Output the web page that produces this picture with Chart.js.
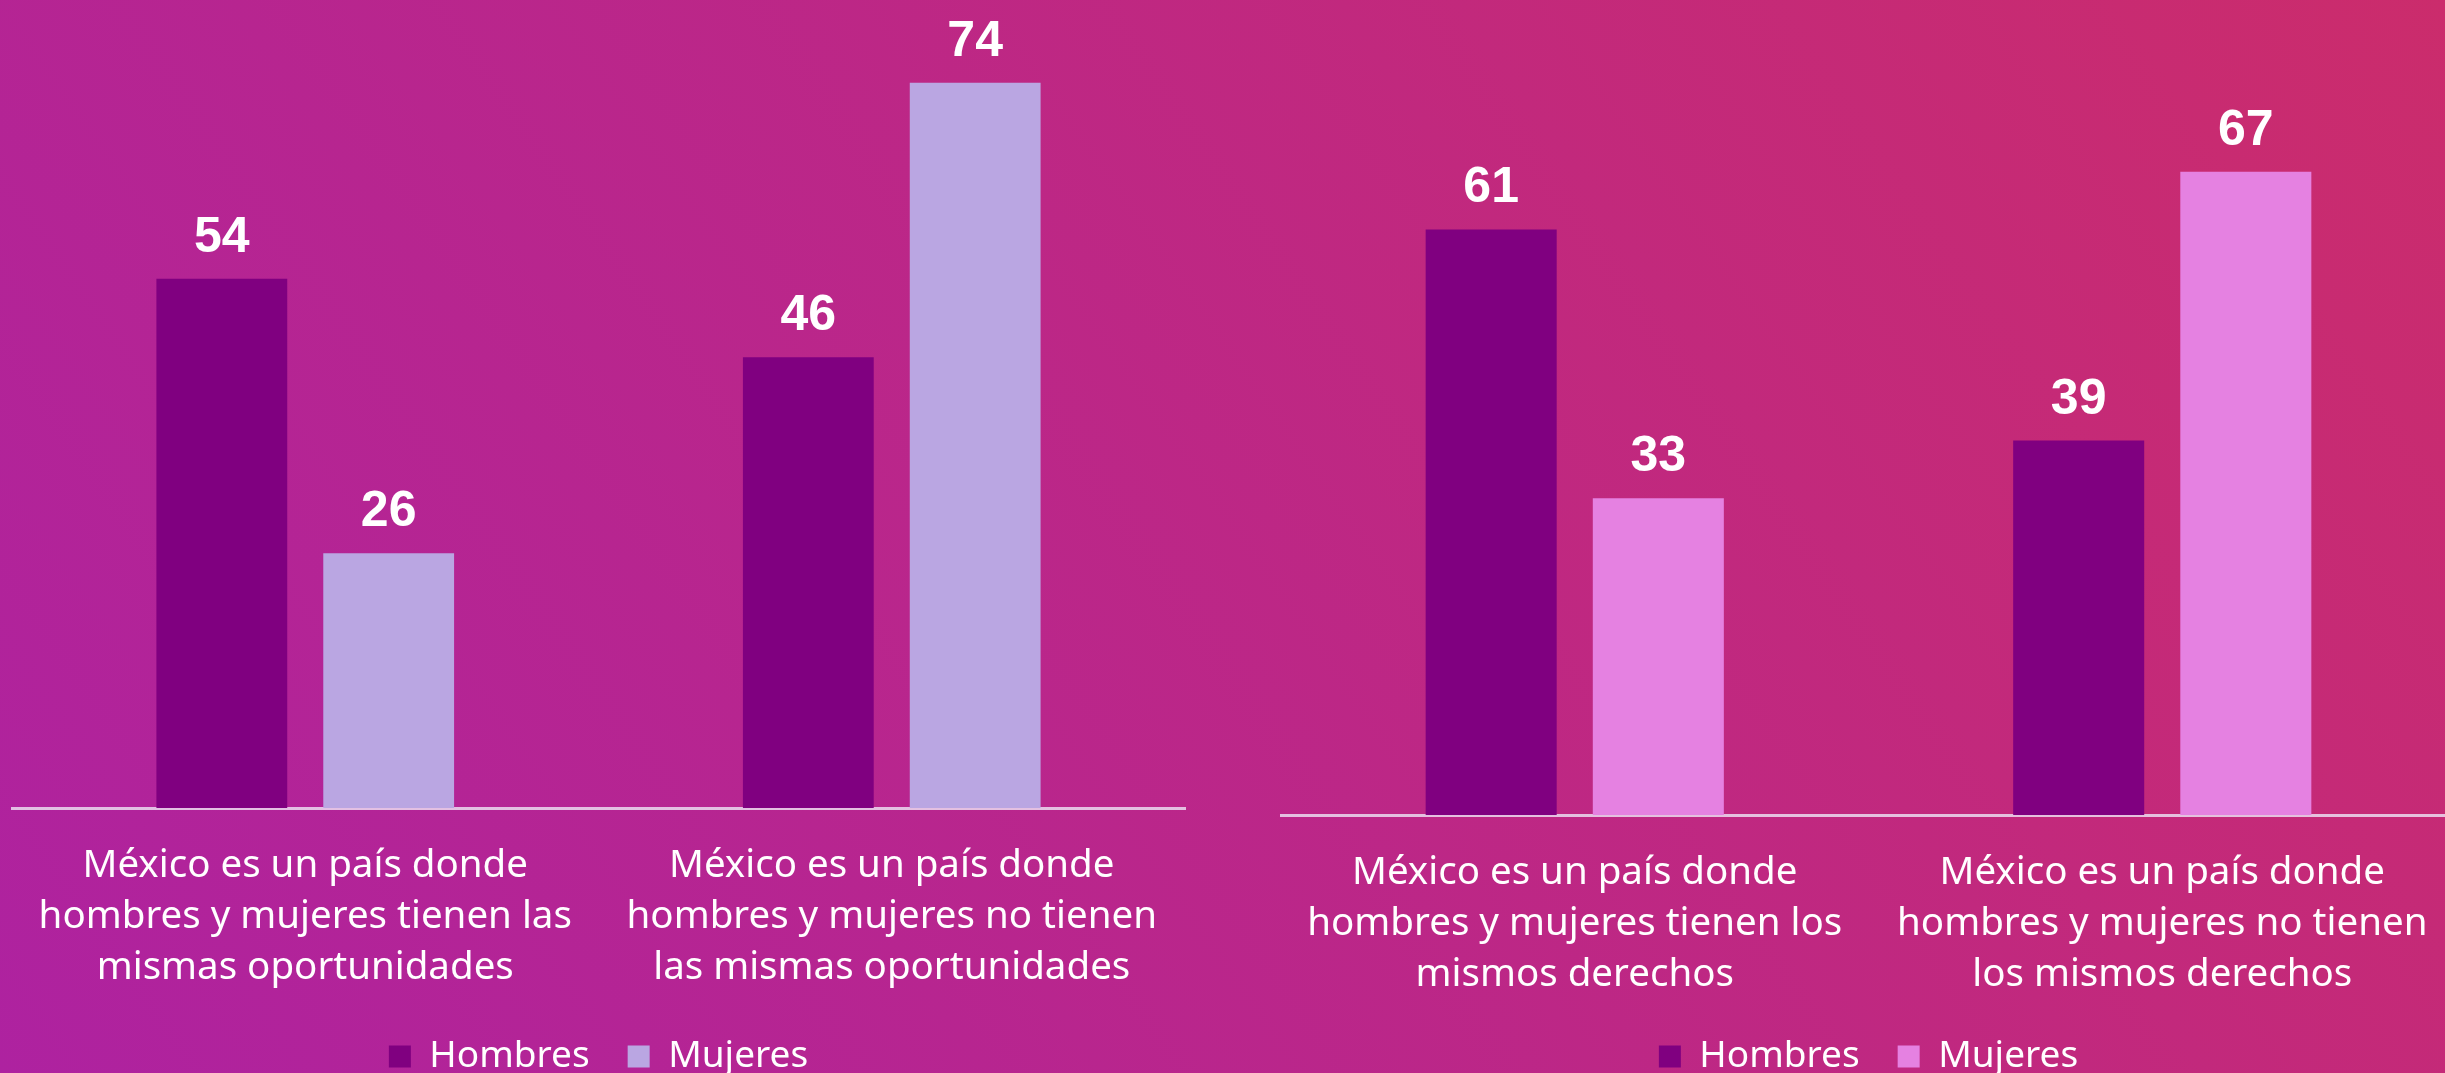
<!DOCTYPE html>
<html>
<head>
<meta charset="utf-8">
<script src="https://cdn.jsdelivr.net/npm/chart.js@4.4.1/dist/chart.umd.min.js"></script>
<style>
  html, body {
    margin: 0;
    padding: 0;
    width: 2445px;
    height: 1073px;
    overflow: hidden;
  }
  body {
    position: relative;
    background: linear-gradient(55deg, #ae22a0 0%, #cb2c6c 100%);
    font-family: "Noto Sans", sans-serif;
  }
  .panel {
    position: absolute;
    top: 0;
    height: 1085px;
  }
</style>
</head>
<body>

<div class="panel" style="left:0; width:1210px;"><canvas id="oportunidades"></canvas></div>
<div class="panel" style="left:1260px; width:1230px;"><canvas id="derechos"></canvas></div>

<script>
const seriesNames = ['Hombres', 'Mujeres'];

const oportunidadesLabels = [
  ['México es un país donde', 'hombres y mujeres tienen las', 'mismas oportunidades'],
  ['México es un país donde', 'hombres y mujeres no tienen', 'las mismas oportunidades']
];
const oportunidadesHombres = [54, 46];
const oportunidadesMujeres = [26, 74];

const derechosLabels = [
  ['México es un país donde', 'hombres y mujeres tienen los', 'mismos derechos'],
  ['México es un país donde', 'hombres y mujeres no tienen', 'los mismos derechos']
];
const derechosHombres = [61, 39];
const derechosMujeres = [33, 67];

// white numbers above each bar
const valueLabels = {
  id: 'valueLabels',
  afterDatasetsDraw(chart) {
    const ctx = chart.ctx;
    ctx.save();
    ctx.font = 'bold 50px "Liberation Sans", Arial, sans-serif';
    ctx.fillStyle = '#ffffff';
    ctx.textAlign = 'center';
    ctx.textBaseline = 'alphabetic';
    chart.data.datasets.forEach((ds, i) => {
      chart.getDatasetMeta(i).data.forEach((bar, j) => {
        ctx.fillText(ds.data[j], bar.x, bar.y - 27);
      });
    });
    ctx.restore();
  }
};

function surveyChart (id, labels, hombres, mujeres, mujeresColor, pad, axisHeight) {
  new Chart(
    document.getElementById(id),
    {
      type: 'bar',
      plugins: [valueLabels],
      options: {
        responsive: true,
        maintainAspectRatio: false,
        animation: false,
        layout: {
          padding: pad
        },
        plugins: {
          legend: {
            position: 'bottom',
            labels: {
              color: '#ffffff',
              boxWidth: 22,
              boxHeight: 22,
              padding: 38,
              font: { family: '"Noto Sans", sans-serif', size: 37 }
            }
          },
          tooltip: { enabled: false }
        },
        scales: {
          x: {
            grid: { display: false, drawTicks: false },
            border: { display: true, color: 'rgba(235, 220, 240, 0.85)', width: 3 },
            ticks: {
              color: '#ffffff',
              padding: 33,
              maxRotation: 0,
              font: { family: '"Noto Sans", sans-serif', size: 38.5, lineHeight: 1.32 }
            },
            afterFit: function (scale) {
              scale.height = axisHeight;
            }
          },
          y: {
            display: false,
            min: 0,
            max: 80
          }
        }
      },
      data: {
        labels: labels,
        datasets: [
          {
            label: seriesNames[0],
            data: hombres,
            backgroundColor: '#800080',
            categoryPercentage: 0.569,
            barPercentage: 0.784
          },
          {
            label: seriesNames[1],
            data: mujeres,
            backgroundColor: mujeresColor,
            categoryPercentage: 0.569,
            barPercentage: 0.784
          }
        ]
      }
    }
  );
}

surveyChart('oportunidades', oportunidadesLabels, oportunidadesHombres, oportunidadesMujeres,
  '#baa6e2', { left: 12, right: 25, top: 24, bottom: 0 }, 192);
surveyChart('derechos', derechosLabels, derechosHombres, derechosMujeres,
  '#e581e1', { left: 21, right: 34, top: 47, bottom: 0 }, 185);
</script>
</body>
</html>
